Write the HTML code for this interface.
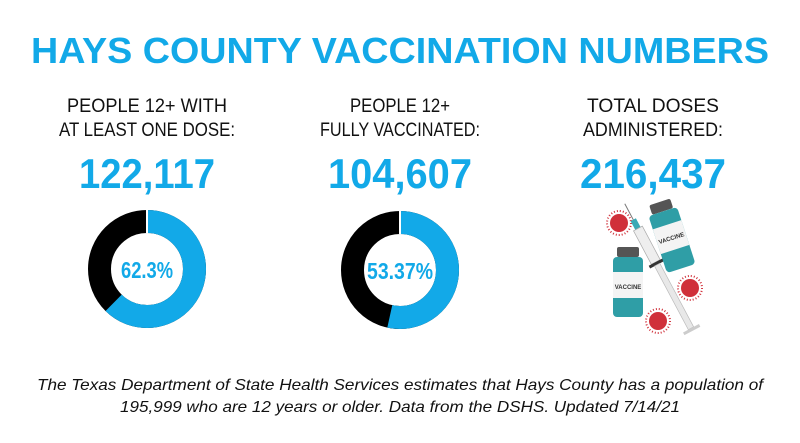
<!DOCTYPE html>
<html><head><meta charset="utf-8"><style>
html,body{margin:0;padding:0;background:#fff;}
svg{display:block;}
text{font-family:"Liberation Sans",sans-serif;}
</style></head><body>
<svg width="800" height="443" viewBox="0 0 800 443">
<rect width="800" height="443" fill="#fff"/>
<text x="400" y="63" text-anchor="middle" font-size="36" font-weight="bold" fill="#12a9e8" textLength="738" lengthAdjust="spacingAndGlyphs">HAYS COUNTY VACCINATION NUMBERS</text>
<g font-size="19" fill="#111" text-anchor="middle">
<text x="147" y="112" textLength="160" lengthAdjust="spacingAndGlyphs">PEOPLE  12+ WITH</text>
<text x="147" y="136" textLength="176" lengthAdjust="spacingAndGlyphs">AT LEAST ONE DOSE:</text>
<text x="400" y="112" textLength="100" lengthAdjust="spacingAndGlyphs">PEOPLE 12+</text>
<text x="400" y="136" textLength="160" lengthAdjust="spacingAndGlyphs">FULLY VACCINATED:</text>
<text x="653" y="112" textLength="132" lengthAdjust="spacingAndGlyphs">TOTAL DOSES</text>
<text x="653" y="136" textLength="140" lengthAdjust="spacingAndGlyphs">ADMINISTERED:</text>
</g>
<g font-size="42" font-weight="bold" fill="#12a9e8" text-anchor="middle">
<text x="147" y="188" textLength="136" lengthAdjust="spacingAndGlyphs">122,117</text>
<text x="400" y="188" textLength="144" lengthAdjust="spacingAndGlyphs">104,607</text>
<text x="653" y="188" textLength="146" lengthAdjust="spacingAndGlyphs">216,437</text>
</g>
<g transform="translate(147,269) rotate(-90)">
<circle r="47.5" fill="none" stroke="#000" stroke-width="23"/>
<circle r="47.5" fill="none" stroke="#12a9e8" stroke-width="23" stroke-dasharray="185.9 400"/>
</g>
<line x1="147" y1="209" x2="147" y2="233" stroke="#fff" stroke-width="2"/>
<text x="147" y="278" text-anchor="middle" font-size="23" font-weight="bold" fill="#12a9e8" textLength="52" lengthAdjust="spacingAndGlyphs">62.3%</text>
<g transform="translate(400,270) rotate(-90)">
<circle r="47.5" fill="none" stroke="#000" stroke-width="23"/>
<circle r="47.5" fill="none" stroke="#12a9e8" stroke-width="23" stroke-dasharray="159.3 400"/>
</g>
<line x1="400" y1="210" x2="400" y2="234" stroke="#fff" stroke-width="2"/>
<text x="400" y="279" text-anchor="middle" font-size="23" font-weight="bold" fill="#12a9e8" textLength="66" lengthAdjust="spacingAndGlyphs">53.37%</text>
<g>
<g fill="#d0303a">
<circle cx="619" cy="223" r="9"/><circle cx="690" cy="288" r="9"/><circle cx="658" cy="321" r="9"/>
</g>
<g stroke="#d0303a" stroke-width="2" stroke-dasharray="1 2" fill="none">
<circle cx="619" cy="223" r="12"/><circle cx="690" cy="288" r="12"/><circle cx="658" cy="321" r="12"/>
</g>
<g transform="rotate(-28 660 270)">
<line x1="660" y1="195" x2="660" y2="215" stroke="#777" stroke-width="1"/>
<rect x="657" y="213" width="6" height="10" fill="#3aa9b5"/>
<rect x="655" y="223" width="10" height="38" fill="#eee" stroke="#aaa" stroke-width="0.7"/>
<rect x="652" y="261" width="16" height="3" fill="#333"/>
<rect x="657" y="264" width="6" height="72" fill="#e8e8e8" stroke="#bbb" stroke-width="0.7"/>
<rect x="651" y="336" width="18" height="3" fill="#ccc"/>
</g>
<g>
<rect x="617" y="247" width="22" height="10" rx="2" fill="#555"/>
<rect x="613" y="257" width="30" height="60" rx="4" fill="#2f9ea6"/>
<rect x="613" y="272" width="30" height="26" fill="#f4f4f4"/>
<text x="628" y="289" font-size="6" font-weight="bold" text-anchor="middle" fill="#333">VACCINE</text>
</g>
<g transform="rotate(-18 672 240)">
<rect x="661" y="200" width="22" height="10" rx="2" fill="#555"/>
<rect x="657" y="210" width="30" height="60" rx="4" fill="#2f9ea6"/>
<rect x="657" y="224" width="30" height="26" fill="#f4f4f4"/>
<text x="672" y="240" font-size="6" font-weight="bold" text-anchor="middle" fill="#333">VACCINE</text>
</g>
</g>
<g font-size="16" font-style="italic" fill="#111" text-anchor="middle">
<text x="400" y="390" textLength="726" lengthAdjust="spacingAndGlyphs">The Texas Department of State Health Services estimates that Hays County has a population of</text>
<text x="400" y="412" textLength="560" lengthAdjust="spacingAndGlyphs">195,999 who are 12 years or older. Data from the DSHS. Updated 7/14/21</text>
</g>
</svg>
</body></html>
